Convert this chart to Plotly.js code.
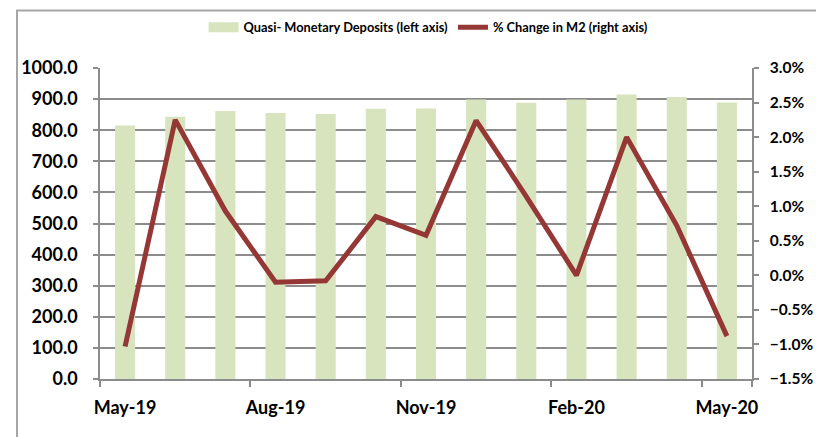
<!DOCTYPE html>
<html>
<head>
<meta charset="utf-8">
<script src="https://cdn.plot.ly/plotly-3.0.1.min.js"></script>
<style>
  html, body { margin: 0; padding: 0; background: #fff; }
  #chart { width: 816px; height: 437px; }
</style>
</head>
<body>
<div id="chart"></div>
<script>
const months = ["May-19","Jun-19","Jul-19","Aug-19","Sep-19","Oct-19","Nov-19","Dec-19","Jan-20","Feb-20","Mar-20","Apr-20","May-20"];
const quasiDeposits = [815, 843, 862, 855, 852, 869, 870, 899, 888, 899, 915, 907, 889];
const m2Change = [-1.03, 2.25, 0.93, -0.10, -0.08, 0.85, 0.58, 2.24, 1.14, 0.00, 2.00, 0.72, -0.88];
const xTickLabels = ["May-19","Aug-19","Nov-19","Feb-20","May-20"];

const barColor = "#d7e4bd";
const lineColor = "#953735";
const gridColor = "#8c8c8c";
const fontFam = "Lato, 'Open Sans', sans-serif";

const traces = [
  {
    type: "bar",
    name: "Quasi- Monetary Deposits (left axis)",
    x: months,
    y: quasiDeposits,
    marker: { color: barColor },
    yaxis: "y",
    showlegend: false,
    hoverinfo: "x+y"
  },
  {
    type: "scatter",
    mode: "lines",
    name: "Quasi- Monetary Deposits (left axis)",
    x: [null],
    y: [null],
    line: { color: barColor, width: 10 },
    yaxis: "y",
    showlegend: true,
    hoverinfo: "skip"
  },
  {
    type: "scatter",
    mode: "lines",
    name: "% Change in M2 (right axis)",
    x: months,
    y: m2Change,
    line: { color: lineColor, width: 5 },
    yaxis: "y2",
    hoverinfo: "x+y"
  }
];

const layout = {
  width: 816,
  height: 437,
  margin: { l: 100, r: 64, t: 65, b: 58 },
  paper_bgcolor: "#ffffff",
  plot_bgcolor: "#ffffff",
  font: { family: fontFam, color: "#000" },
  bargap: 0.6,
  showlegend: true,
  legend: {
    orientation: "h",
    x: 0.504,
    xanchor: "center",
    y: 1 + (65 - 24) / 314,
    yanchor: "middle",
    font: { size: 12.8, family: fontFam, weight: "bold", color: "#000" },
    itemwidth: 30,
    tracegroupgap: 0,
    bgcolor: "rgba(0,0,0,0)"
  },
  xaxis: {
    type: "category",
    categoryorder: "array",
    categoryarray: months,
    tickmode: "array",
    tickvals: xTickLabels,
    ticktext: xTickLabels,
    tickson: "boundaries",
    tickangle: 0,
    ticks: "outside",
    ticklen: 6,
    tickwidth: 1.5,
    tickcolor: gridColor,
    showgrid: false,
    showline: true,
    linecolor: gridColor,
    linewidth: 1.5,
    range: [-0.5, 12.5],
    ticklabelstandoff: 12,
    tickfont: { size: 18, family: fontFam, weight: "bold", color: "#000" },
    zeroline: false
  },
  yaxis: {
    range: [0, 1000],
    dtick: 100,
    tick0: 0,
    tickformat: ".1f",
    ticks: "outside",
    ticklen: 5,
    tickwidth: 1.5,
    tickcolor: gridColor,
    showgrid: true,
    gridcolor: gridColor,
    gridwidth: 1.5,
    showline: true,
    linecolor: gridColor,
    linewidth: 1.5,
    zeroline: false,
    ticklabelstandoff: 12,
    tickfont: { size: 18, family: fontFam, weight: "bold", color: "#000" }
  },
  yaxis2: {
    overlaying: "y",
    side: "right",
    range: [-1.5, 3.0],
    dtick: 0.5,
    tick0: -1.5,
    tickformat: ".1f",
    ticksuffix: "%",
    ticks: "outside",
    ticklen: 5,
    tickwidth: 1.5,
    tickcolor: gridColor,
    showgrid: false,
    showline: true,
    linecolor: gridColor,
    linewidth: 1.5,
    zeroline: false,
    ticklabelstandoff: 8,
    tickfont: { size: 15.5, family: fontFam, weight: "bold", color: "#000" }
  },
  shapes: [
    {
      type: "rect",
      xref: "paper", yref: "paper",
      x0: -83 / 652, x1: 1.2,
      y0: -1, y1: 1 + 58 / 314,
      line: { color: "#a6a6a6", width: 2 },
      fillcolor: "rgba(0,0,0,0)",
      layer: "below"
    }
  ]
};

Plotly.newPlot("chart", traces, layout, { displayModeBar: false, responsive: false });
</script>
</body>
</html>
